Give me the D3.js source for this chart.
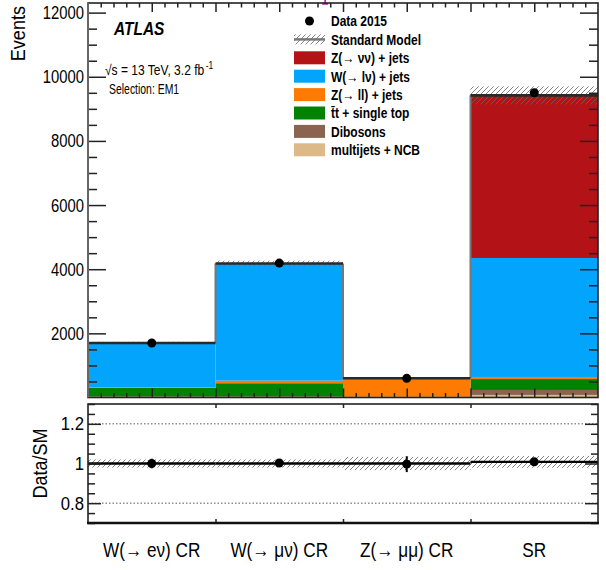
<!DOCTYPE html>
<html>
<head>
<meta charset="utf-8">
<script src="https://cdn.jsdelivr.net/npm/d3@7"></script>
<style>
  html, body { margin: 0; padding: 0; background: #fff; }
  svg { display: block; }
  text { font-family: 'Liberation Sans', Arial, Helvetica, sans-serif; fill: #000; }
</style>
</head>
<body>
<div id="chart"></div>
<script>
// Event yields per region, stacked by background process
const binLabels = ["W(→ eν) CR", "W(→ μν) CR", "Z(→ μμ) CR", "SR"];
const multijets = [5, 5, 0, 80];
const dibosons  = [30, 30, 15, 155];
const ttbar     = [265, 410, 10, 340];
const zll       = [10, 80, 570, 65];
const wlnu      = [1385, 3650, 5, 3710];
const znunu     = [5, 5, 0, 5070];
const smErr     = [35, 85, 20, 280];
const dataCounts = [1700, 4190, 598, 9500];
const dataErr    = [41, 65, 24, 97];
const ratioLine  = [1, 1, 1, 1.008];

const yTicksMain  = [2000, 4000, 6000, 8000, 10000, 12000];
const yTicksRatio = [0.8, 1, 1.2];
const yTickLabelsRatio = ["0.8", "1", "1.2"];

const processes = [
  { key: "multijets", label: "multijets + NCB", values: multijets, color: "#dcb987" },
  { key: "dibosons",  label: "Dibosons",        values: dibosons,  color: "#8a6450" },
  { key: "ttbar",     label: "t̄t + single top", values: ttbar,     color: "#028202" },
  { key: "zll",       label: "Z(→ ll) + jets",  values: zll,       color: "#fd7a03" },
  { key: "wlnu",      label: "W(→ lν) + jets",  values: wlnu,      color: "#03a4fc" },
  { key: "znunu",     label: "Z(→  νν) + jets", values: znunu,     color: "#b31316" }
];

const W = 606, H = 570;
const L = 88, R = 598;
const mainTop = 3, mainBottom = 397.5;
const ratioTop = 404, ratioBottom = 523;

const svg = d3.select("#chart").append("svg").attr("width", W).attr("height", H);

// squeeze text horizontally (narrow Helvetica look) with a local scale; returns the new length
function condense(sel, f) {
  let out = 0;
  sel.each(function () {
    const t = d3.select(this);
    const X = +t.attr("x") || 0, Y = +t.attr("y") || 0;
    const tr = t.attr("transform") || "";
    t.attr("x", 0).attr("y", 0).attr("transform", `${tr} translate(${X},${Y}) scale(${f},1)`);
    out = this.getComputedTextLength() * f;
  });
  return out;
}

// hatch pattern for the SM uncertainty
const defs = svg.append("defs");
const pat = defs.append("pattern").attr("id", "hatch")
  .attr("patternUnits", "userSpaceOnUse").attr("width", 5).attr("height", 5);
pat.append("path").attr("d", "M-1,6 L6,-1 M-1,1 L1,-1 M4,6 L6,4")
  .attr("stroke", "#666").attr("stroke-width", 0.8);

const rows = binLabels.map((b, i) => {
  const r = { bin: b };
  processes.forEach(p => r[p.key] = p.values[i]);
  return r;
});
const stacked = d3.stack().keys(processes.map(p => p.key))(rows);
const smTotal = rows.map((r, i) => d3.sum(processes, p => p.values[i]));

const x = d3.scaleBand().domain(binLabels).range([L, R]).paddingInner(0).paddingOuter(0);
const xu = d3.scaleLinear().domain([0, binLabels.length]).range([L, R]);
const y = d3.scaleLinear().domain([0, 12300]).range([mainBottom, mainTop]);
const yr = d3.scaleLinear().domain([0.7, 1.3]).range([ratioBottom, ratioTop]);

// ---------- main panel ----------
const main = svg.append("g");
stacked.forEach((layer, li) => {
  main.append("g").selectAll("rect").data(layer).join("rect")
    .attr("x", d => x(d.data.bin))
    .attr("width", x.bandwidth())
    .attr("y", d => y(d[1]))
    .attr("height", d => Math.max(0, y(d[0]) - y(d[1])))
    .attr("fill", processes[li].color);
});

// SM uncertainty band
main.append("g").selectAll("rect").data(binLabels).join("rect")
  .attr("x", b => x(b)).attr("width", x.bandwidth())
  .attr("y", (b, i) => y(smTotal[i] + smErr[i]))
  .attr("height", (b, i) => y(smTotal[i] - smErr[i]) - y(smTotal[i] + smErr[i]))
  .attr("fill", "url(#hatch)");

// SM total outline: grey bin edges, dark tops
const edges = [];
for (let i = 0; i < binLabels.length - 1; i++) {
  edges.push({ x: x(binLabels[i + 1]), y1: y(smTotal[i]), y2: y(smTotal[i + 1]) });
}
main.append("g").selectAll("line").data(edges).join("line")
  .attr("x1", d => d.x).attr("x2", d => d.x)
  .attr("y1", d => d.y1).attr("y2", d => d.y2)
  .attr("stroke", "#777").attr("stroke-width", 2);
main.append("line").attr("x1", L).attr("x2", L)
  .attr("y1", y(smTotal[0])).attr("y2", mainBottom).attr("stroke", "#777").attr("stroke-width", 2);
main.append("g").selectAll("line").data(binLabels).join("line")
  .attr("x1", b => x(b)).attr("x2", b => x(b) + x.bandwidth())
  .attr("y1", (b, i) => y(smTotal[i])).attr("y2", (b, i) => y(smTotal[i]))
  .attr("stroke", "#2a2a2a").attr("stroke-width", 2.6);

// data points
main.append("g").selectAll("line").data(binLabels).join("line")
  .attr("x1", b => x(b) + x.bandwidth() / 2).attr("x2", b => x(b) + x.bandwidth() / 2)
  .attr("y1", (b, i) => y(dataCounts[i] + dataErr[i])).attr("y2", (b, i) => y(dataCounts[i] - dataErr[i]))
  .attr("stroke", "#000").attr("stroke-width", 2);
main.append("g").selectAll("circle").data(binLabels).join("circle")
  .attr("cx", b => x(b) + x.bandwidth() / 2)
  .attr("cy", (b, i) => y(dataCounts[i]))
  .attr("r", 4.5).attr("fill", "#000");

// small magenta marker at the top edge
svg.append("path").attr("d", `M${xu(1.86)},0 V4 M${xu(1.86) - 3},4 H${xu(1.86) + 3}`)
  .attr("stroke", "#b020b0").attr("stroke-width", 1.6).attr("fill", "none");

// axes of main panel
const minorMain = d3.range(500, 12300, 500).filter(v => v % 2000 !== 0);
function styleAxis(g) {
  g.select(".domain").remove();
  g.selectAll(".tick line").attr("stroke", "#222").attr("stroke-width", 1.5);
  g.selectAll(".tick text").attr("font-size", 19).attr("fill", "#000");
}
svg.append("g").attr("transform", `translate(${L},0)`)
  .call(d3.axisLeft(y).tickValues(yTicksMain).tickSize(-18).tickPadding(4).tickFormat(d3.format("d")))
  .call(styleAxis)
  .call(g => condense(g.selectAll(".tick text"), 0.78));
svg.append("g").attr("transform", `translate(${L},0)`)
  .call(d3.axisLeft(y).tickValues(minorMain).tickSize(-9).tickFormat(""))
  .call(styleAxis);
svg.append("g").attr("transform", `translate(${R},0)`)
  .call(d3.axisRight(y).tickValues(yTicksMain).tickSize(-18).tickFormat(""))
  .call(styleAxis);
svg.append("g").attr("transform", `translate(${R},0)`)
  .call(d3.axisRight(y).tickValues(minorMain).tickSize(-9).tickFormat(""))
  .call(styleAxis);

const xMajor = d3.range(0.5, 4, 0.5);
const xMinor = d3.range(1, 40).map(v => v / 10).filter(v => Math.abs(v * 2 - Math.round(v * 2)) > 1e-6);
[[xMajor, 9], [xMinor, 4.5]].forEach(([vals, len]) => {
  svg.append("g").attr("transform", `translate(0,${mainBottom})`)
    .call(d3.axisBottom(xu).tickValues(vals).tickSize(-len).tickFormat(""))
    .call(styleAxis);
  svg.append("g").attr("transform", `translate(0,${mainTop})`)
    .call(d3.axisTop(xu).tickValues(vals).tickSize(-len).tickFormat(""))
    .call(styleAxis);
});

svg.append("rect").attr("x", L).attr("y", mainTop).attr("width", R - L).attr("height", mainBottom - mainTop)
  .attr("fill", "none").attr("stroke", "#222").attr("stroke-width", 1.6);
svg.append("line").attr("x1", L).attr("x2", L).attr("y1", mainTop).attr("y2", mainBottom)
  .attr("stroke", "#666").attr("stroke-width", 2);

// y title, anchored at its start so its far end sits at the top of the axis
const evTitle = svg.append("text").attr("font-size", 21).text("Events");
const evLen = evTitle.node().getComputedTextLength() * 0.86;
evTitle.attr("transform", `translate(25,${6 + evLen}) rotate(-90)`);
condense(evTitle, 0.86);

// labels
svg.append("text").attr("x", 114).attr("y", 35).attr("font-size", 18)
  .attr("font-weight", "bold").attr("font-style", "italic").text("ATLAS")
  .call(t => condense(t, 0.86));
const lumi = svg.append("text").attr("x", 105).attr("y", 75).attr("font-size", 14.5)
  .text("√s = 13 TeV, 3.2 fb");
const lumiLen = condense(lumi, 0.83);
svg.append("text").attr("x", 105 + lumiLen + 1.5).attr("y", 68.5).attr("font-size", 10).text("-1")
  .call(t => condense(t, 0.85));
svg.append("text").attr("x", 109).attr("y", 94).attr("font-size", 14.5).text("Selection: EM1")
  .call(t => condense(t, 0.72));

// legend
const legX = 294, legW = 31, legTextX = 331, legY0 = 21, legDy = 18.4;
const legend = svg.append("g");
legend.append("circle").attr("cx", legX + legW / 2).attr("cy", legY0).attr("r", 4.5).attr("fill", "#000");
legend.append("text").attr("x", legTextX).attr("y", legY0).attr("dy", "0.36em")
  .attr("font-size", 15).attr("font-weight", "bold").text("Data 2015");
legend.append("rect").attr("x", legX).attr("y", legY0 + legDy - 5).attr("width", legW).attr("height", 10)
  .attr("fill", "url(#hatch)");
legend.append("line").attr("x1", legX).attr("x2", legX + legW)
  .attr("y1", legY0 + legDy).attr("y2", legY0 + legDy).attr("stroke", "#777").attr("stroke-width", 2.5);
legend.append("text").attr("x", legTextX).attr("y", legY0 + legDy).attr("dy", "0.36em")
  .attr("font-size", 15).attr("font-weight", "bold").text("Standard Model");
processes.slice().reverse().forEach((p, i) => {
  const cy = legY0 + legDy * (i + 2);
  legend.append("rect").attr("x", legX).attr("y", cy - 6.5).attr("width", legW).attr("height", 13)
    .attr("fill", p.color);
  legend.append("text").attr("x", legTextX).attr("y", cy).attr("dy", "0.36em")
    .attr("font-size", 15).attr("font-weight", "bold").text(p.label);
});
condense(legend.selectAll("text"), 0.8);

// ---------- ratio panel ----------
const ratio = svg.append("g");
[0.8, 1.2].forEach(v => {
  ratio.append("line").attr("x1", L).attr("x2", R).attr("y1", yr(v)).attr("y2", yr(v))
    .attr("stroke", "#555").attr("stroke-width", 1).attr("stroke-dasharray", "1.5,2");
});
ratio.append("g").selectAll("rect").data(binLabels).join("rect")
  .attr("x", b => x(b)).attr("width", x.bandwidth())
  .attr("y", (b, i) => yr(ratioLine[i] + smErr[i] / smTotal[i]))
  .attr("height", (b, i) => yr(ratioLine[i] - smErr[i] / smTotal[i]) - yr(ratioLine[i] + smErr[i] / smTotal[i]))
  .attr("fill", "url(#hatch)");
ratio.append("g").selectAll("line").data(binLabels).join("line")
  .attr("x1", b => x(b)).attr("x2", b => x(b) + x.bandwidth())
  .attr("y1", (b, i) => yr(ratioLine[i])).attr("y2", (b, i) => yr(ratioLine[i]))
  .attr("stroke", "#000").attr("stroke-width", 2.4);
ratio.append("g").selectAll("line.err").data(binLabels).join("line")
  .attr("x1", b => x(b) + x.bandwidth() / 2).attr("x2", b => x(b) + x.bandwidth() / 2)
  .attr("y1", (b, i) => yr((dataCounts[i] + dataErr[i]) / smTotal[i]))
  .attr("y2", (b, i) => yr((dataCounts[i] - dataErr[i]) / smTotal[i]))
  .attr("stroke", "#000").attr("stroke-width", 2);
ratio.append("g").selectAll("circle").data(binLabels).join("circle")
  .attr("cx", b => x(b) + x.bandwidth() / 2)
  .attr("cy", (b, i) => yr(dataCounts[i] / smTotal[i]))
  .attr("r", 4.5).attr("fill", "#000");

const minorRatio = d3.range(0.7, 1.3001, 0.05).map(v => +v.toFixed(2)).filter(v => !yTicksRatio.includes(v));
svg.append("g").attr("transform", `translate(${L},0)`)
  .call(d3.axisLeft(yr).tickValues(yTicksRatio).tickSize(-13).tickPadding(4)
    .tickFormat((d, i) => yTickLabelsRatio[i]))
  .call(styleAxis)
  .call(g => condense(g.selectAll(".tick text"), 0.88));
svg.append("g").attr("transform", `translate(${L},0)`)
  .call(d3.axisLeft(yr).tickValues(minorRatio).tickSize(-7).tickFormat(""))
  .call(styleAxis);
svg.append("g").attr("transform", `translate(${R},0)`)
  .call(d3.axisRight(yr).tickValues(yTicksRatio).tickSize(-13).tickFormat(""))
  .call(styleAxis);
svg.append("g").attr("transform", `translate(${R},0)`)
  .call(d3.axisRight(yr).tickValues(minorRatio).tickSize(-7).tickFormat(""))
  .call(styleAxis);
const binEdges = d3.range(1, binLabels.length);
svg.append("g").attr("transform", `translate(0,${ratioBottom})`)
  .call(d3.axisBottom(xu).tickValues(binEdges).tickSize(-4).tickFormat(""))
  .call(styleAxis);
svg.append("g").attr("transform", `translate(0,${ratioTop})`)
  .call(d3.axisTop(xu).tickValues(binEdges).tickSize(-4).tickFormat(""))
  .call(styleAxis);

svg.append("rect").attr("x", L).attr("y", ratioTop).attr("width", R - L).attr("height", ratioBottom - ratioTop)
  .attr("fill", "none").attr("stroke", "#222").attr("stroke-width", 1.6);
svg.append("line").attr("x1", L - 1).attr("x2", R + 1).attr("y1", ratioBottom).attr("y2", ratioBottom)
  .attr("stroke", "#111").attr("stroke-width", 2.5);

svg.append("text").attr("transform", `translate(47,${yr(1)}) rotate(-90)`)
  .attr("text-anchor", "middle").attr("font-size", 21).text("Data/SM")
  .call(t => condense(t, 0.86));

// category labels
svg.append("g").selectAll("text").data(binLabels).join("text")
  .attr("x", b => x(b) + x.bandwidth() / 2).attr("y", 557)
  .attr("text-anchor", "middle").attr("font-size", 20).text(b => b)
  .call(t => condense(t, 0.86));
</script>
</body>
</html>
